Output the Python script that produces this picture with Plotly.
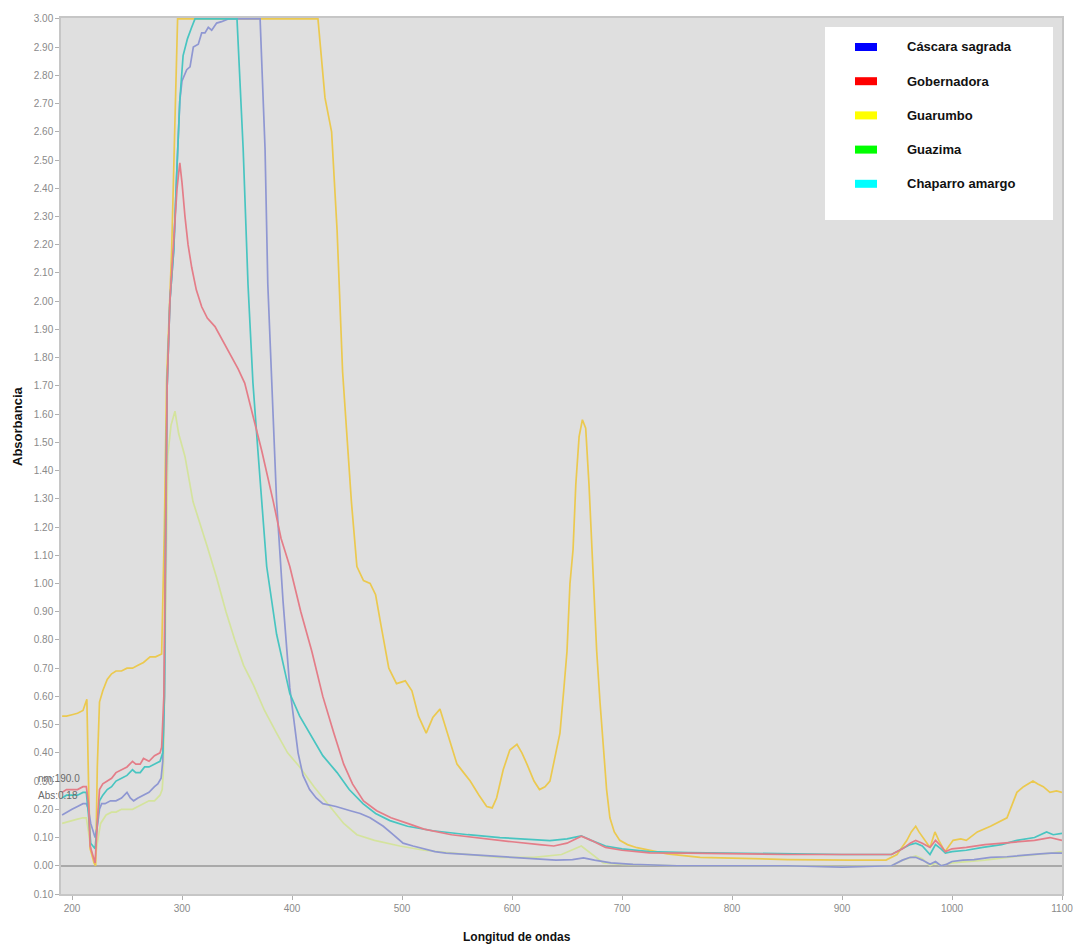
import plotly.graph_objects as go

# ---------------- data ----------------
series_names = ["Cáscara sagrada", "Gobernadora", "Guarumbo", "Guazima", "Chaparro amargo"]
legend_colors = ["#0000ff", "#ff0000", "#ffff00", "#00ff00", "#00ffff"]
line_colors = ["#8f97d2", "#e47d88", "#ebc94f", "#d4e39d", "#48c5c1"]

cascara_nm = [191, 195, 200, 205, 210, 213, 215, 217, 219, 221, 223, 225, 227, 230, 235, 240, 245, 250,
              253, 256, 260, 265, 270, 275, 278, 281, 282.5, 284, 285, 286.5, 289, 292.5, 295.5, 298, 300,
              302, 304.3, 307.3, 310.3, 314.8, 317.9, 320.9, 323.9, 327, 331.5, 336, 342, 371, 375.5, 378,
              381.5, 386, 391.8, 398, 405.5, 410, 416, 422, 428, 440, 453, 462, 471, 477, 483, 492, 501, 510,
              519, 530, 540, 560, 590, 620, 640, 655, 665, 675, 690, 710, 750, 800, 850, 900, 945, 955, 962,
              967, 973, 980, 985, 990, 995, 1000, 1010, 1020, 1035, 1050, 1065, 1080, 1090, 1100]
cascara_abs = [0.18, 0.19, 0.20, 0.21, 0.22, 0.22, 0.20, 0.15, 0.12, 0.10, 0.14, 0.20, 0.22, 0.22, 0.23, 0.23,
               0.24, 0.26, 0.24, 0.23, 0.24, 0.25, 0.26, 0.28, 0.29, 0.31, 0.37, 0.60, 1.20, 1.70, 2.00, 2.18,
               2.48, 2.71, 2.78, 2.80, 2.82, 2.83, 2.90, 2.91, 2.95, 2.95, 2.97, 2.96, 2.985, 2.99, 3.00, 3.00,
               2.54, 2.06, 1.71, 1.29, 0.94, 0.63, 0.40, 0.32, 0.27, 0.24, 0.22, 0.21, 0.195, 0.185, 0.17,
               0.155, 0.14, 0.11, 0.08, 0.07, 0.06, 0.05, 0.045, 0.04, 0.03, 0.025, 0.02, 0.022, 0.028, 0.02,
               0.01, 0.005, 0.0, 0.0, 0.0, -0.005, 0.0, 0.02, 0.03, 0.03, 0.02, 0.005, 0.015, 0.0, 0.005,
               0.015, 0.02, 0.022, 0.03, 0.032, 0.038, 0.042, 0.045, 0.045]

gobernadora_nm = [191, 195, 200, 205, 210, 213, 215, 216.5, 218, 220, 221, 223, 225, 228, 232, 236, 240, 245,
                  250, 255, 258, 262, 265, 270, 275, 280, 281.5, 283.5, 285, 286.5, 289, 292.5, 295.5, 298, 300,
                  302.7, 305.5, 308.8, 313, 317.9, 323, 330, 337, 345, 351, 357, 364.5, 372.5, 383, 390, 398,
                  408, 418, 428, 438, 447, 455, 465, 477, 490, 505, 520, 545, 575, 600, 625, 638, 650, 663,
                  672, 685, 700, 725, 760, 800, 850, 900, 945, 955, 962, 967, 973, 980, 985, 990, 994, 1000,
                  1013, 1030, 1045, 1060, 1075, 1089, 1100]
gobernadora_abs = [0.26, 0.27, 0.27, 0.27, 0.28, 0.28, 0.22, 0.07, 0.05, 0.02, 0.01, 0.15, 0.27, 0.29, 0.30,
                   0.31, 0.33, 0.34, 0.35, 0.37, 0.36, 0.36, 0.38, 0.37, 0.39, 0.40, 0.42, 0.60, 1.20, 1.70,
                   2.00, 2.20, 2.40, 2.49, 2.42, 2.30, 2.20, 2.12, 2.04, 1.98, 1.94, 1.91, 1.86, 1.80, 1.76,
                   1.71, 1.59, 1.47, 1.29, 1.16, 1.06, 0.90, 0.76, 0.60, 0.47, 0.36, 0.29, 0.23, 0.195, 0.17,
                   0.15, 0.13, 0.11, 0.095, 0.085, 0.075, 0.07, 0.08, 0.105, 0.09, 0.065, 0.055, 0.046, 0.045,
                   0.042, 0.04, 0.04, 0.04, 0.06, 0.08, 0.09, 0.08, 0.065, 0.09, 0.07, 0.05, 0.06, 0.065,
                   0.075, 0.08, 0.085, 0.09, 0.10, 0.09]

guarumbo_nm = [191, 195, 200, 205, 210, 212, 213.5, 215, 216.5, 218, 220, 221.5, 223, 225, 228, 232, 236, 240,
               245, 250, 255, 260, 265, 271, 276, 281.5, 284, 286, 288, 290.6, 294, 296, 423.6, 427, 430, 436,
               441, 446, 450, 454, 459, 465, 471, 476, 481, 488, 495, 503, 509, 515, 522, 528, 534.5, 542, 550,
               556, 562, 570, 577, 582, 586, 592, 598, 604.5, 609, 613.6, 620, 625, 630, 634.5, 640, 643.6,
               647, 650, 652.7, 655.5, 658, 661, 664, 667, 670, 672.7, 675, 677, 680, 683, 686, 689, 693, 698,
               705, 713.6, 741, 771, 816, 850, 907, 940, 950, 955, 959, 963, 967, 970, 973.6, 980, 984.5, 988,
               993.6, 1001, 1008, 1013, 1023, 1035, 1050, 1055, 1059, 1065, 1073.6, 1078, 1083, 1089, 1095, 1100]
guarumbo_abs = [0.53, 0.53, 0.535, 0.54, 0.55, 0.57, 0.59, 0.30, 0.06, 0.04, 0.01, 0.0, 0.35, 0.58, 0.62,
                0.66, 0.68, 0.69, 0.69, 0.70, 0.70, 0.71, 0.72, 0.74, 0.74, 0.75, 1.20, 1.72, 1.95, 2.18, 2.70,
                3.00, 3.00, 2.85, 2.72, 2.60, 2.25, 1.75, 1.50, 1.29, 1.06, 1.01, 1.00, 0.96, 0.85, 0.70,
                0.645, 0.655, 0.62, 0.53, 0.47, 0.525, 0.555, 0.46, 0.36, 0.33, 0.30, 0.25, 0.21, 0.205, 0.24,
                0.34, 0.41, 0.43, 0.40, 0.36, 0.30, 0.27, 0.28, 0.30, 0.40, 0.47, 0.62, 0.76, 1.00, 1.12,
                1.35, 1.52, 1.58, 1.55, 1.35, 1.12, 0.95, 0.76, 0.58, 0.41, 0.27, 0.17, 0.12, 0.09, 0.075,
                0.064, 0.042, 0.03, 0.025, 0.022, 0.02, 0.02, 0.04, 0.07, 0.09, 0.12, 0.14, 0.12, 0.10, 0.065,
                0.12, 0.09, 0.05, 0.09, 0.095, 0.09, 0.12, 0.14, 0.17, 0.22, 0.26, 0.28, 0.30, 0.29, 0.28, 0.26,
                0.265, 0.26]

guazima_nm = [191, 195, 200, 205, 210, 213, 215, 217, 219, 221, 223, 226, 231, 236, 240, 245, 250, 255, 260,
              265, 270, 275, 280, 282, 283, 284.5, 285.5, 287, 290, 293.6, 297, 302.7, 310, 316, 323, 331.5,
              340, 348, 356, 365, 375, 386, 396, 407, 420, 434.5, 447, 459, 475, 498, 520, 543.6, 589, 620,
              645, 663, 673, 683, 700, 750, 800, 850, 900, 945, 955, 962, 967, 973, 980, 985, 990, 1000, 1015,
              1030, 1050, 1065, 1080, 1090, 1100]
guazima_abs = [0.15, 0.155, 0.16, 0.165, 0.17, 0.17, 0.12, 0.06, 0.03, 0.02, 0.08, 0.15, 0.18, 0.19, 0.19,
               0.20, 0.20, 0.20, 0.21, 0.22, 0.23, 0.23, 0.25, 0.27, 0.33, 0.70, 1.10, 1.45, 1.56, 1.61, 1.53,
               1.45, 1.29, 1.22, 1.13, 1.02, 0.90, 0.80, 0.71, 0.64, 0.55, 0.47, 0.40, 0.35, 0.28, 0.21, 0.15,
               0.11, 0.09, 0.07, 0.055, 0.046, 0.03, 0.03, 0.04, 0.07, 0.04, 0.01, 0.005, 0.0, 0.0, 0.0,
               -0.003, 0.0, 0.02, 0.03, 0.035, 0.025, 0.0, 0.01, 0.0, 0.01, 0.015, 0.02, 0.03, 0.035, 0.04,
               0.045, 0.05]

chaparro_nm = [191, 195, 200, 205, 210, 213, 215, 217, 219, 221, 223, 225, 228, 232, 236, 240, 245, 250, 255,
               258, 262, 266, 270, 275, 280, 282.5, 284, 285, 286.5, 289, 292.5, 295.5, 298, 301, 305, 308.8,
               311.8, 350, 355.6, 360, 364.5, 369, 372.5, 377, 386, 398, 407, 416, 428, 441, 452, 464.5, 476,
               489, 505, 528, 560, 589, 610, 634.5, 650, 663, 672, 685, 700, 725, 760, 800, 850, 900, 945, 955,
               962, 967, 973, 980, 985, 990, 994, 1000, 1013, 1028, 1045, 1059, 1075, 1086, 1092, 1100]
chaparro_abs = [0.24, 0.25, 0.25, 0.25, 0.26, 0.26, 0.18, 0.08, 0.07, 0.06, 0.15, 0.23, 0.25, 0.27, 0.28,
                0.30, 0.31, 0.32, 0.34, 0.33, 0.33, 0.35, 0.35, 0.36, 0.37, 0.40, 0.60, 1.20, 1.70, 2.00, 2.18,
                2.48, 2.71, 2.87, 2.93, 2.97, 3.00, 3.00, 2.54, 2.06, 1.71, 1.47, 1.29, 1.06, 0.82, 0.61, 0.53,
                0.47, 0.39, 0.33, 0.27, 0.22, 0.185, 0.16, 0.14, 0.124, 0.11, 0.10, 0.095, 0.089, 0.095, 0.106,
                0.09, 0.07, 0.06, 0.05, 0.047, 0.045, 0.042, 0.04, 0.04, 0.06, 0.075, 0.08, 0.07, 0.04, 0.075,
                0.06, 0.045, 0.05, 0.055, 0.065, 0.075, 0.09, 0.10, 0.12, 0.11, 0.115]

x_tick_values = [200, 300, 400, 500, 600, 700, 800, 900, 1000, 1100]
y_tick_values = [round(-0.1 + 0.1 * i, 2) for i in range(32)]
y_tick_labels = ["%.2f" % abs(v) for v in y_tick_values]

# ---------------- figure ----------------
series_x = [cascara_nm, gobernadora_nm, guarumbo_nm, guazima_nm, chaparro_nm]
series_y = [cascara_abs, gobernadora_abs, guarumbo_abs, guazima_abs, chaparro_abs]

fig = go.Figure()
draw_order = [3, 2, 0, 4, 1]
for i in draw_order:
    fig.add_trace(go.Scatter(
        x=series_x[i], y=series_y[i], name=series_names[i], mode="lines",
        line=dict(color=line_colors[i], width=1.7), showlegend=False,
    ))

W, H = 1073, 947
PLOT_L, PLOT_R, PLOT_T, PLOT_B = 61, 1062, 18, 894       # target plot area in page pixels
ML, MT, MR, MB = PLOT_L, PLOT_T, W - PLOT_R, H - PLOT_B
PW, PH = PLOT_R - PLOT_L, PLOT_B - PLOT_T


def px_x(p):
    return (p - PLOT_L) / PW


def px_y(p):
    return (PLOT_B - p) / PH


FONT = "Liberation Sans, Arial, sans-serif"
shapes = [dict(type="rect", xref="paper", yref="paper",
               x0=px_x(825), x1=px_x(1053), y0=px_y(220), y1=px_y(27),
               fillcolor="white", line=dict(width=0), layer="above")]
annotations = []
for k, name in enumerate(series_names):
    cy = 47 + 34.2 * k
    shapes.append(dict(type="rect", xref="paper", yref="paper",
                       x0=px_x(855), x1=px_x(877), y0=px_y(cy + 4), y1=px_y(cy - 4),
                       fillcolor=legend_colors[k], line=dict(width=0), layer="above"))
    annotations.append(dict(xref="paper", yref="paper", x=px_x(905), y=px_y(cy),
                            xanchor="left", yanchor="middle", showarrow=False,
                            text="<b>%s</b>" % name,
                            font=dict(family=FONT, size=13, color="#111111")))

annotations.append(dict(xref="paper", yref="paper", x=px_x(17), y=px_y(426), textangle=-90,
                        xanchor="center", yanchor="middle",
                        showarrow=False, text="<b>Absorbancia</b>",
                        font=dict(family=FONT, size=13, color="#111111")))
annotations.append(dict(xref="paper", yref="paper", x=px_x(517), y=px_y(937),
                        xanchor="center", yanchor="middle",
                        showarrow=False, text="<b>Longitud de ondas</b>",
                        font=dict(family=FONT, size=12, color="#111111")))
annotations.append(dict(xref="paper", yref="paper", x=px_x(36), y=px_y(786), xanchor="left",
                        showarrow=False, text="nm:190.0",
                        font=dict(family=FONT, size=10, color="#6a6a6a")))
annotations.append(dict(xref="paper", yref="paper", x=px_x(36), y=px_y(803), xanchor="left",
                        showarrow=False, text="Abs:0.18",
                        font=dict(family=FONT, size=10, color="#6a6a6a")))

fig.update_layout(
    width=W, height=H, autosize=False,
    margin=dict(l=ML, r=MR, t=MT, b=MB, pad=0, autoexpand=False),
    paper_bgcolor="white", plot_bgcolor="#dfdfdf",
    shapes=shapes, annotations=annotations,
    font=dict(family=FONT, size=10, color="#888888"),
)
fig.update_xaxes(range=[190, 1100], tickvals=x_tick_values, ticks="outside", ticklen=4,
                 tickcolor="#b0b0b0", showgrid=False, zeroline=False, showline=True,
                 linecolor="#c6c6c6", linewidth=1.5, mirror=True, automargin=False,
                 ticklabeloverflow="allow",
                 tickfont=dict(size=10, color="#8a8a8a"))
fig.update_yaxes(range=[-0.10, 3.003], tickvals=y_tick_values, ticktext=y_tick_labels,
                 ticks="outside", ticklen=4, tickcolor="#b0b0b0", showgrid=False,
                 zeroline=True, zerolinecolor="#a9a9a9", zerolinewidth=1.5, automargin=False,
                 ticklabeloverflow="allow",
                 showline=True, linecolor="#c6c6c6", linewidth=1.5, mirror=True,
                 tickfont=dict(size=10, color="#8a8a8a"))

# remove the default 8px page margin so the figure fills the window exactly
fig.write_html("out.html", config={"displayModeBar": False},
               post_script="document.body.style.margin='0';document.body.style.overflow='hidden';")
